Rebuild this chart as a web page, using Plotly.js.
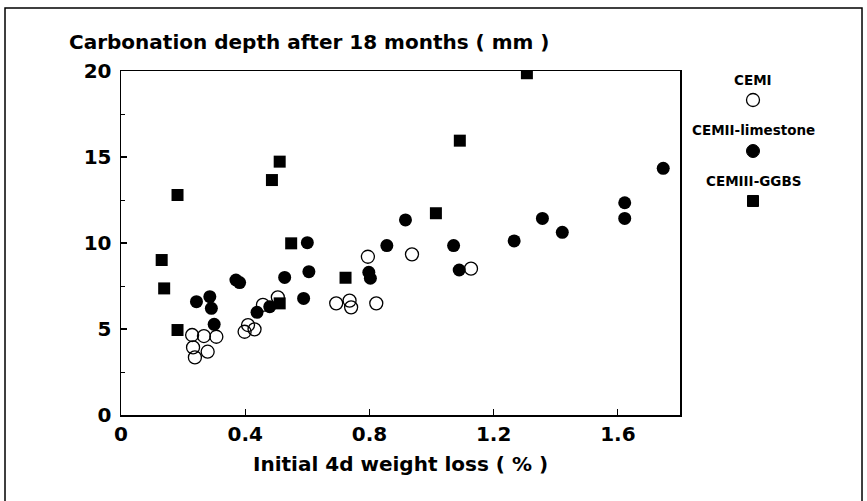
<!DOCTYPE html>
<html>
<head>
<meta charset="utf-8">
<script src="https://cdn.plot.ly/plotly-3.0.1.min.js"></script>
<style>html,body{margin:0;padding:0;background:#fff;}#chart{width:867px;height:501px;}</style>
</head>
<body>
<div id="chart"></div>
<script>
// Series names
const seriesNames = ["CEMI", "CEMII-limestone", "CEMIII-GGBS"];

// CEMI (open circles)
const cem1X = [0.229, 0.267, 0.307, 0.232, 0.279, 0.238, 0.398, 0.409, 0.430, 0.457, 0.505, 0.693, 0.736, 0.741, 0.795, 0.822, 0.937, 1.127];
const cem1Y = [4.65, 4.59, 4.55, 3.93, 3.68, 3.35, 4.84, 5.23, 4.98, 6.40, 6.84, 6.49, 6.65, 6.26, 9.20, 6.49, 9.34, 8.51];

// CEMII-limestone (filled circles)
const cem2X = [0.243, 0.286, 0.291, 0.300, 0.370, 0.382, 0.438, 0.479, 0.527, 0.588, 0.600, 0.605, 0.798, 0.803, 0.856, 0.916, 1.071, 1.089, 1.266, 1.357, 1.421, 1.622, 1.622, 1.746];
const cem2Y = [6.59, 6.88, 6.20, 5.27, 7.85, 7.70, 5.97, 6.30, 8.00, 6.78, 10.02, 8.33, 8.30, 7.95, 9.85, 11.34, 9.85, 8.43, 10.12, 11.43, 10.62, 12.34, 11.43, 14.34];

// CEMIII-GGBS (filled squares)
const cem3X = [0.131, 0.139, 0.182, 0.182, 0.486, 0.511, 0.511, 0.548, 0.723, 1.014, 1.091, 1.307];
const cem3Y = [9.01, 7.36, 12.79, 4.94, 13.66, 14.73, 6.49, 9.98, 7.98, 11.73, 15.95, 19.87];

// Axis ticks
const xTicks = [0, 0.4, 0.8, 1.2, 1.6];
const xTickLabels = ["0", "0.4", "0.8", "1.2", "1.6"];
const yTicks = [0, 5, 10, 15, 20];
const yTickLabels = ["0", "5", "10", "15", "20"];

const chartTitle = "Carbonation depth after 18 months ( mm )";
const xTitle = "Initial 4d weight loss ( % )";

const FONT = "DejaVu Sans, sans-serif";

const traces = [
  {x: cem1X, y: cem1Y, name: seriesNames[0], type: "scatter", mode: "markers",
   marker: {symbol: "circle-open", size: 13, color: "#000", line: {width: 1.3, color: "#000"}}},
  {x: cem2X, y: cem2Y, name: seriesNames[1], type: "scatter", mode: "markers",
   marker: {symbol: "circle", size: 13, color: "#000"}},
  {x: cem3X, y: cem3Y, name: seriesNames[2], type: "scatter", mode: "markers",
   marker: {symbol: "square", size: 12, color: "#000"}}
];

const legY = [0.9738, 0.8285, 0.6802];
const symY = [0.9157, 0.7674, 0.6221];
const legX = 1.1306;

const annotations = seriesNames.map((n, i) => ({
  text: "<b>" + n + "</b>", xref: "paper", yref: "paper", x: legX, y: legY[i],
  xanchor: "center", yanchor: "middle", showarrow: false,
  font: {family: FONT, size: 13.5, color: "#000"}
}));
annotations.push({
  text: "<b>" + chartTitle + "</b>", xref: "paper", yref: "paper", x: -0.0966, y: 1.0843,
  xanchor: "left", yanchor: "middle", showarrow: false,
  font: {family: FONT, size: 20, color: "#000"}
});

const shapes = [
  // outer frame
  {type: "rect", xref: "paper", yref: "paper", x0: -0.2075, x1: 1.3256, y0: -0.3, y1: 1.1831,
   line: {color: "#000", width: 1.5}, fillcolor: "rgba(0,0,0,0)"},
  // legend symbols
  {type: "circle", xref: "paper", yref: "paper", xsizemode: "pixel", ysizemode: "pixel",
   xanchor: legX, yanchor: symY[0], x0: -6.5, x1: 6.5, y0: -6.5, y1: 6.5,
   line: {color: "#000", width: 1.3}, fillcolor: "#fff"},
  {type: "circle", xref: "paper", yref: "paper", xsizemode: "pixel", ysizemode: "pixel",
   xanchor: legX, yanchor: symY[1], x0: -6.5, x1: 6.5, y0: -6.5, y1: 6.5,
   line: {color: "#000", width: 1}, fillcolor: "#000"},
  {type: "rect", xref: "paper", yref: "paper", xsizemode: "pixel", ysizemode: "pixel",
   xanchor: legX, yanchor: symY[2], x0: -5.5, x1: 5.5, y0: -5.5, y1: 5.5,
   line: {color: "#000", width: 1}, fillcolor: "#000"}
];

const layout = {
  width: 867, height: 501,
  margin: {l: 121, r: 187, t: 71, b: 86},
  paper_bgcolor: "#fff", plot_bgcolor: "#fff",
  showlegend: false,
  font: {family: FONT, color: "#000"},
  xaxis: {
    range: [0, 1.8], tickvals: xTicks, ticktext: xTickLabels.map(t => "<b>" + t + "</b>"),
    ticks: "inside", ticklen: 6, tickwidth: 1.2, tickcolor: "#000",
    showline: true, linecolor: "#000", linewidth: 1.5, mirror: true,
    showgrid: false, zeroline: false,
    tickfont: {family: FONT, size: 20, color: "#000"},
    title: {text: "<b>" + xTitle + "</b>", font: {family: FONT, size: 20, color: "#000"}, standoff: 12}
  },
  yaxis: {
    range: [0, 20], tickvals: yTicks, ticktext: yTickLabels.map(t => "<b>" + t + "</b>"),
    ticks: "inside", ticklen: 6, tickwidth: 1.2, tickcolor: "#000",
    ticklabelstandoff: 4,
    minor: {dtick: 2.5, ticks: "inside", ticklen: 4, tickcolor: "#000", tickwidth: 1},
    showline: true, linecolor: "#000", linewidth: 1.5, mirror: true,
    showgrid: false, zeroline: false,
    tickfont: {family: FONT, size: 20, color: "#000"}
  },
  annotations: annotations,
  shapes: shapes
};

Plotly.newPlot("chart", traces, layout, {displayModeBar: false, staticPlot: true});
</script>
</body>
</html>
